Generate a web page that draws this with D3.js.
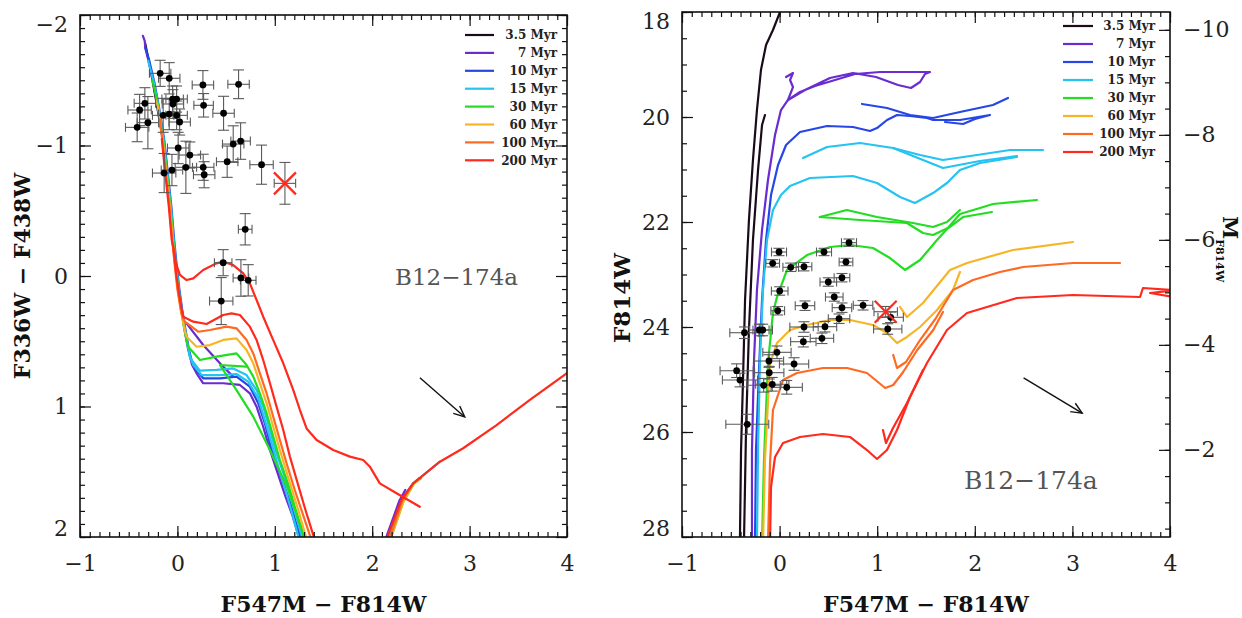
<!DOCTYPE html>
<html><head><meta charset="utf-8">
<script src="https://cdn.jsdelivr.net/npm/d3@7"></script>
<style>body{margin:0;background:#fff}svg{display:block}</style>
</head><body>
<svg id="c" width="1242" height="618"></svg>
<script>
// ---------------- DATA ----------------
const ages = ["3.5 Myr","7 Myr","10 Myr","15 Myr","30 Myr","60 Myr","100 Myr","200 Myr"];
const ageColors = ["#1a0a1a","#6a2bd0","#2746e6","#24c3f2","#22dd22","#f7b526","#ff6a22","#ff2a1e"];
const xDomain = [-1, 4];
const xMajorTicks = [-1,0,1,2,3,4];
const yLeftDomain = [-2, 2];
const yLeftTicks = [-2,-1,0,1,2];
const yRightDomain = [18, 28];
const yRightTicks = [18,20,22,24,26,28];
const absMagTicks = [-10,-8,-6,-4,-2];
const distMod = 28.34;
const clusterName = "B12\u2212174a";
const xTitle = "F547M \u2212 F814W";
const yTitleLeft = "F336W \u2212 F438W";
const yTitleRight = "F814W";

// left panel: colour-colour points
const leftX = [-0.177,-0.084,0.262,0.628,-0.334,-0.049,-0.008,-0.046,0.269,-0.388,-0.413,-0.303,-0.146,-0.084,-0.008,0.023,0.474,0.008,0.128,0.573,0.649,0.511,0.864,0.087,0.265,0.275,-0.136,-0.056,0.696,0.470,0.652,0.727,0.450];
const leftY = [-1.553,-1.515,-1.464,-1.469,-1.323,-1.356,-1.356,-1.318,-1.308,-1.272,-1.139,-1.175,-1.231,-1.241,-1.231,-1.180,-1.247,-0.981,-0.927,-1.011,-1.034,-0.876,-0.853,-0.833,-0.833,-0.776,-0.789,-0.812,-0.358,-0.102,0.015,0.033,0.192];
const leftXerr = [0.11,0.11,0.11,0.11,0.11,0.11,0.11,0.11,0.10,0.12,0.12,0.11,0.11,0.11,0.11,0.11,0.11,0.11,0.11,0.11,0.10,0.11,0.12,0.11,0.11,0.11,0.12,0.11,0.07,0.09,0.08,0.08,0.12];
const leftYerr = [0.10,0.12,0.11,0.11,0.12,0.10,0.10,0.11,0.09,0.12,0.11,0.20,0.13,0.12,0.11,0.10,0.13,0.12,0.10,0.14,0.14,0.12,0.15,0.20,0.10,0.10,0.15,0.12,0.12,0.10,0.14,0.12,0.18];
const leftStar = [1.104, -0.710], leftStarErr = [0.11, 0.16];

// right panel: CMD points
const rightX = [0.711,-0.006,0.455,-0.071,0.114,0.250,0.680,0.499,0.639,0.001,0.560,-0.019,0.260,0.639,0.855,0.609,1.108,1.138,0.250,0.465,0.243,0.434,-0.208,-0.173,-0.360,-0.027,-0.109,0.148,-0.106,-0.440,-0.406,-0.163,-0.075,0.073,-0.331];
const rightY = [22.394,22.571,22.571,22.787,22.863,22.851,22.762,23.143,23.061,23.314,23.429,23.690,23.594,23.632,23.587,23.842,24.038,23.815,24.000,23.994,24.280,24.215,24.057,24.057,24.109,24.482,24.648,24.705,24.870,24.832,25.010,25.110,25.091,25.149,25.853];
const rightXerr = [0.077,0.077,0.077,0.07,0.08,0.08,0.07,0.085,0.08,0.085,0.09,0.07,0.10,0.10,0.10,0.11,0.145,0.13,0.145,0.12,0.13,0.12,0.10,0.10,0.15,0.145,0.15,0.15,0.15,0.17,0.18,0.17,0.17,0.16,0.22];
const rightYerr = [0.07,0.07,0.07,0.07,0.08,0.08,0.07,0.08,0.08,0.08,0.08,0.08,0.09,0.09,0.09,0.09,0.10,0.10,0.10,0.10,0.10,0.10,0.11,0.11,0.11,0.12,0.12,0.12,0.12,0.13,0.13,0.13,0.13,0.13,0.19];
const rightStar = [1.087, 23.709], rightStarErr = [0.12, 0.10];

// reddening vectors [x0,y0,x1,y1]
const arrowLeft = [2.49, 0.78, 2.95, 1.08];
const arrowRight = [2.50, 24.97, 3.10, 25.64];

// left panel isochrones (segments)
const left35 = [[[-0.33,-1.78],[-0.28,-1.60],[-0.22,-1.35],[-0.15,-1.05],[-0.10,-0.70],[-0.06,-0.35]]];
const left7 = [
 [[-0.354,-1.84],[-0.335,-1.80],[-0.33,-1.75],[-0.30,-1.66],[-0.245,-1.477],[-0.20,-1.297],[-0.15,-1.042],[-0.115,-0.787],[-0.08,-0.531],[-0.05,-0.276],[-0.025,-0.1],[0.005,0.1],[0.04,0.26],[0.07,0.4],[0.11,0.56],[0.15,0.68],[0.197,0.746],[0.265,0.822],[0.47,0.822],[0.642,0.835],[0.744,0.899],[0.813,1.001],[0.881,1.155],[0.95,1.333],[1.03,1.512],[1.11,1.691],[1.185,1.844],[1.245,1.997],[1.29,2.15],[2.05,2.15],[2.15,1.99],[2.28,1.72],[2.34,1.64]],
 [[0.094,0.363],[0.265,0.529],[0.453,0.682],[0.573,0.771]]
];
const left10 = [
 [[-0.33,-1.75],[-0.29,-1.655],[-0.235,-1.477],[-0.19,-1.297],[-0.135,-1.042],[-0.098,-0.787],[-0.062,-0.531],[-0.033,-0.276],[-0.01,-0.1],[0.02,0.1],[0.05,0.26],[0.085,0.42],[0.12,0.57],[0.15,0.66],[0.18,0.708],[0.265,0.784],[0.436,0.784],[0.607,0.771],[0.744,0.848],[0.83,0.976],[0.898,1.129],[0.967,1.333],[1.065,1.538],[1.16,1.742],[1.26,1.997],[1.31,2.15],[2.08,2.15],[2.17,1.99],[2.30,1.716],[2.42,1.59],[2.47,1.56]]
];
const left15 = [
 [[-0.30,-1.65],[-0.24,-1.477],[-0.193,-1.297],[-0.14,-1.042],[-0.103,-0.787],[-0.067,-0.531],[-0.038,-0.276],[-0.015,-0.1],[0.015,0.1],[0.045,0.26],[0.08,0.42],[0.11,0.55],[0.13,0.62],[0.145,0.644],[0.231,0.725],[0.402,0.72],[0.573,0.708],[0.71,0.759],[0.813,0.874],[0.881,1.001],[0.95,1.18],[1.018,1.359],[1.10,1.538],[1.18,1.742],[1.28,1.997],[1.33,2.15],[2.1,2.15],[2.18,1.99],[2.31,1.716],[2.42,1.59],[2.695,1.423]],
 [[0.12,0.60],[0.163,0.682],[0.248,0.759],[0.436,0.759],[0.607,0.751],[0.727,0.81],[0.83,0.937],[0.898,1.104],[0.967,1.282],[1.035,1.461],[1.12,1.665],[1.215,1.92],[1.24,1.997],[1.29,2.15]]
];
const left30 = [
 [[-0.26,-1.50],[-0.24,-1.45],[-0.197,-1.297],[-0.145,-1.042],[-0.108,-0.787],[-0.072,-0.531],[-0.043,-0.276],[-0.02,-0.1],[0.01,0.1],[0.04,0.26],[0.07,0.4],[0.095,0.5],[0.111,0.542],[0.231,0.644],[0.402,0.618],[0.607,0.593],[0.71,0.682],[0.779,0.771],[0.847,0.899],[0.916,1.053],[0.984,1.231],[1.052,1.41],[1.135,1.589],[1.215,1.793],[1.30,1.997],[1.35,2.15],[2.12,2.15],[2.2,1.99],[2.32,1.73],[2.43,1.59],[2.5,1.55]],
 [[0.71,0.695],[0.436,0.682],[0.607,0.874],[0.779,1.078],[0.95,1.333],[1.14,1.64],[1.30,1.997],[1.33,2.1]]
];
const left60 = [
 [[-0.22,-1.35],[-0.20,-1.297],[-0.15,-1.042],[-0.113,-0.787],[-0.077,-0.531],[-0.048,-0.276],[-0.025,-0.1],[0.005,0.1],[0.035,0.26],[0.06,0.36],[0.08,0.43],[0.094,0.465],[0.197,0.542],[0.334,0.529],[0.47,0.49],[0.607,0.478],[0.71,0.567],[0.779,0.669],[0.847,0.822],[0.916,0.976],[0.984,1.155],[1.052,1.333],[1.135,1.538],[1.22,1.742],[1.32,1.997],[1.37,2.15],[2.12,2.15],[2.2,1.99],[2.32,1.73],[2.43,1.59],[2.48,1.56]]
];
const left100 = [
 [[-0.18,-1.2],[-0.155,-1.042],[-0.118,-0.787],[-0.082,-0.531],[-0.053,-0.276],[-0.03,-0.1],[0.0,0.1],[0.03,0.24],[0.05,0.31],[0.077,0.35],[0.214,0.427],[0.334,0.414],[0.505,0.388],[0.607,0.401],[0.71,0.49],[0.779,0.593],[0.847,0.746],[0.916,0.899],[0.984,1.078],[1.052,1.257],[1.121,1.436],[1.205,1.64],[1.285,1.819],[1.365,1.997],[1.41,2.15],[2.12,2.15],[2.19,1.99],[2.31,1.72],[2.42,1.59],[2.48,1.55]]
];
const left200 = [
 [[-0.16,-1.05],[-0.125,-0.787],[-0.088,-0.531],[-0.058,-0.276],[-0.036,-0.199],[-0.015,-0.097],[0.026,-0.008],[0.094,0.031],[0.163,0.018],[0.265,-0.046],[0.402,-0.097],[0.47,-0.11],[0.573,-0.084],[0.676,-0.02],[0.744,0.056],[0.813,0.184],[0.881,0.312],[0.984,0.491],[1.087,0.669],[1.19,0.874],[1.258,1.027],[1.326,1.168],[1.429,1.257],[1.6,1.333],[1.771,1.384],[1.908,1.41],[1.976,1.461],[2.078,1.589],[2.25,1.665],[2.489,1.768]],
 [[-0.036,-0.199],[-0.01,0.0],[0.02,0.15],[0.045,0.26],[0.06,0.312],[0.163,0.35],[0.3,0.368],[0.47,0.299],[0.556,0.286],[0.642,0.299],[0.744,0.388],[0.813,0.49],[0.881,0.644],[0.95,0.822],[1.018,1.001],[1.087,1.18],[1.155,1.384],[1.235,1.589],[1.315,1.793],[1.40,1.997],[1.45,2.15],[2.1,2.15],[2.16,1.99],[2.30,1.716],[2.421,1.589],[2.695,1.423],[2.934,1.32],[3.277,1.142],[3.619,0.95],[3.996,0.746],[4.1,0.69]]
];

// right panel isochrones (segments)
const right35 = [
 [[-0.406,28.1],[-0.406,28.0],[-0.395,26.343],[-0.375,25.010],[-0.354,23.486],[-0.314,21.962],[-0.273,20.819],[-0.232,19.867],[-0.191,19.105],[-0.139,18.629],[-0.068,18.343],[0.004,18.0],[0.035,17.867]],
 [[-0.365,28.1],[-0.344,25.962],[-0.314,24.057],[-0.273,22.343],[-0.221,21.010],[-0.180,20.152],[-0.150,19.962]]
];
const right7 = [
 [[-0.283,28.1],[-0.283,26.343],[-0.262,24.629],[-0.232,23.295],[-0.180,22.152],[-0.119,21.2],[-0.047,20.343],[0.014,19.867],[0.086,19.676],[0.209,19.524],[0.363,19.410],[0.568,19.295],[0.773,19.181],[1.029,19.143],[1.336,19.143],[1.541,19.143],[1.490,19.181],[1.439,19.333],[1.346,19.448],[1.213,19.390],[0.988,19.238],[0.752,19.162],[0.516,19.257],[0.260,19.486],[0.086,19.676]],
 [[0.086,19.676],[0.137,19.429],[0.107,19.295],[0.137,19.162],[0.066,19.238]]
];
const right10 = [
 [[-0.252,28.1],[-0.242,26.343],[-0.211,24.819],[-0.180,23.486],[-0.139,22.343],[-0.088,21.486],[-0.016,20.914],[0.066,20.533],[0.209,20.286],[0.486,20.171],[0.752,20.190],[0.926,20.267],[0.998,20.210],[1.101,20.057],[1.203,19.962],[1.336,19.981],[1.510,20.019],[1.572,20.057],[1.848,20.057],[2.156,19.962],[2.002,20.038],[1.879,20.133],[1.695,20.095]],
 [[0.844,19.752],[1.101,19.829],[1.336,19.962],[1.572,20.019],[1.848,19.905],[2.186,19.771],[2.340,19.638]]
];
const right15 = [
 [[-0.232,28.1],[-0.221,26.343],[-0.201,24.629],[-0.170,23.295],[-0.129,22.343],[-0.068,21.771],[0.014,21.486],[0.107,21.314],[0.311,21.162],[0.752,21.124],[0.998,21.257],[1.234,21.524],[1.387,21.638],[1.572,21.448],[1.715,21.257],[1.848,21.010],[2.053,20.876],[2.432,20.762]],
 [[0.240,20.781],[0.486,20.571],[0.824,20.495],[1.162,20.590],[1.439,20.724],[1.674,20.819],[2.023,20.724],[2.361,20.629],[2.699,20.629]],
 [[1.162,20.590],[1.674,20.971],[2.053,20.838],[2.432,20.743]]
];
const right30 = [
 [[-0.180,28.1],[-0.160,26.533],[-0.119,24.686],[-0.068,23.733],[-0.027,23.429],[0.076,22.914],[0.281,22.629],[0.516,22.476],[0.721,22.438],[0.957,22.495],[1.131,22.686],[1.285,22.914],[1.439,22.724],[1.613,22.343],[1.715,22.133],[1.848,21.848],[2.053,21.733],[2.186,21.657],[2.637,21.581]],
 [[0.412,21.905],[0.689,21.771],[0.998,21.905],[1.367,22.019],[1.572,22.095],[1.715,22.0],[1.848,21.771]],
 [[0.412,21.905],[0.824,21.962],[1.305,22.019],[1.469,22.210],[1.572,22.248],[1.746,22.095],[1.879,21.905],[2.176,21.810]]
];
const right60 = [
 [[-0.170,28.1],[-0.150,26.533],[-0.098,24.686],[-0.027,24.305],[0.107,24.057],[0.281,23.962],[0.516,23.867],[0.721,23.867],[0.957,23.962],[1.100,24.114],[1.203,24.305],[1.305,24.190],[1.439,24.0],[1.613,23.676],[1.777,23.295],[1.848,22.952]],
 [[1.234,23.619],[1.305,23.810],[1.469,23.543],[1.746,22.914],[1.920,22.781],[2.391,22.533],[3.006,22.381]]
];
const right100 = [
 [[-0.119,28.1],[-0.098,26.590],[-0.068,25.581],[0.035,25.010],[0.178,24.876],[0.445,24.781],[0.691,24.781],[0.895,24.876],[1.082,25.162],[1.164,25.105],[1.266,24.857],[1.410,24.438],[1.574,24.057],[1.674,23.714]],
 [[1.164,24.533],[1.203,24.781],[1.295,24.667],[1.439,24.248],[1.602,23.829],[1.777,23.295],[1.982,23.105],[2.258,22.952],[2.494,22.857],[3.006,22.781],[3.488,22.781]]
];
const right200 = [
 [[-0.098,28.1],[-0.088,27.048],[-0.047,26.476],[0.035,26.210],[0.209,26.095],[0.445,26.038],[0.721,26.095],[0.895,26.343],[0.998,26.514],[1.100,26.343],[1.203,25.962],[1.336,25.333],[1.469,24.819]],
 [[1.059,25.962],[1.090,26.210],[1.162,25.924],[1.305,25.448],[1.510,24.686],[1.715,24.057],[1.920,23.733],[2.432,23.448],[3.006,23.390],[3.693,23.429],[3.723,23.257],[4.05,23.30],[3.795,23.352],[4.1,23.448]]
];
const leftTracks = [left35,left7,left10,left15,left30,left60,left100,left200];
const rightTracks = [right35,right7,right10,right15,right30,right60,right100,right200];

// ---------------- DRAW ----------------
const svg = d3.select("#c");
const pL = {l:80, r:567, t:15, b:537};
const pR = {l:682, r:1170, t:12, b:537};
const xL = d3.scaleLinear().domain(xDomain).range([pL.l,pL.r]);
const yL = d3.scaleLinear().domain(yLeftDomain).range([pL.t,pL.b]);
const xR = d3.scaleLinear().domain(xDomain).range([pR.l,pR.r]);
const yR = d3.scaleLinear().domain(yRightDomain).range([pR.t,pR.b]);
const yM = d3.scaleLinear().domain([yRightDomain[0]-distMod, yRightDomain[1]-distMod]).range([pR.t,pR.b]);

const serif = "'DejaVu Serif', 'Liberation Serif', serif";
const defs = svg.append("defs");
[["clipL",pL],["clipR",pR]].forEach(([id,p]) => {
  defs.append("clipPath").attr("id",id).append("rect")
    .attr("x",p.l).attr("y",p.t).attr("width",p.r-p.l).attr("height",p.b-p.t);
});

function drawTracks(tracks, x, y, clip) {
  const g = svg.append("g").attr("clip-path", `url(#${clip})`);
  const line = d3.line().x(d => x(d[0])).y(d => y(d[1]));
  tracks.forEach((segs, i) => {
    segs.forEach(seg => {
      g.append("path").attr("d", line(seg)).attr("fill","none")
        .attr("stroke", ageColors[i]).attr("stroke-width", 2.2)
        .attr("stroke-linejoin","round").attr("stroke-linecap","round");
    });
  });
}
drawTracks(leftTracks, xL, yL, "clipL");
drawTracks(rightTracks, xR, yR, "clipR");

function errBars(g, cx, cy, x0, x1, y0, y1) {
  g.append("line").attr("x1",x0).attr("x2",x1).attr("y1",cy).attr("y2",cy);
  g.append("line").attr("x1",x0).attr("x2",x0).attr("y1",cy-4.5).attr("y2",cy+4.5);
  g.append("line").attr("x1",x1).attr("x2",x1).attr("y1",cy-4.5).attr("y2",cy+4.5);
  g.append("line").attr("x1",cx).attr("x2",cx).attr("y1",y0).attr("y2",y1);
  g.append("line").attr("x1",cx-5.5).attr("x2",cx+5.5).attr("y1",y0).attr("y2",y0);
  g.append("line").attr("x1",cx-5.5).attr("x2",cx+5.5).attr("y1",y1).attr("y2",y1);
}
function drawPoints(X, Y, Xe, Ye, x, y) {
  const g = svg.append("g");
  const pts = X.map((v,i) => ({x:v, y:Y[i], xe:Xe[i], ye:Ye[i]}));
  const eb = g.append("g").attr("stroke","#5a5a5a").attr("stroke-width",1.1);
  pts.forEach(p => errBars(eb, x(p.x), y(p.y), x(p.x-p.xe), x(p.x+p.xe), y(p.y-p.ye), y(p.y+p.ye)));
  g.selectAll("circle").data(pts).join("circle")
    .attr("cx", d => x(d.x)).attr("cy", d => y(d.y)).attr("r", 3.4).attr("fill","#000");
}
drawPoints(leftX, leftY, leftXerr, leftYerr, xL, yL);
drawPoints(rightX, rightY, rightXerr, rightYerr, xR, yR);

function drawStar(s, e, x, y) {
  const g = svg.append("g");
  const cx = x(s[0]), cy = y(s[1]);
  const eb = g.append("g").attr("stroke","#5a5a5a").attr("stroke-width",1.1);
  errBars(eb, cx, cy, x(s[0]-e[0]), x(s[0]+e[0]), y(s[1]-e[1]), y(s[1]+e[1]));
  const r = 11;
  g.append("line").attr("x1",cx-r).attr("y1",cy-r).attr("x2",cx+r).attr("y2",cy+r)
    .attr("stroke","#ff2a1e").attr("stroke-width",2.3);
  g.append("line").attr("x1",cx-r).attr("y1",cy+r).attr("x2",cx+r).attr("y2",cy-r)
    .attr("stroke","#ff2a1e").attr("stroke-width",2.3);
}
drawStar(leftStar, leftStarErr, xL, yL);
drawStar(rightStar, rightStarErr, xR, yR);

function drawArrow(a, x, y) {
  const X0 = x(a[0]), Y0 = y(a[1]), X1 = x(a[2]), Y1 = y(a[3]);
  const ang = Math.atan2(Y1-Y0, X1-X0), L = 12, sp = 0.42;
  const g = svg.append("g").attr("stroke","#111").attr("stroke-width",1.4).attr("fill","none");
  g.append("line").attr("x1",X0).attr("y1",Y0).attr("x2",X1).attr("y2",Y1);
  g.append("path").attr("d",
    `M${X1-L*Math.cos(ang-sp)},${Y1-L*Math.sin(ang-sp)}L${X1},${Y1}L${X1-L*Math.cos(ang+sp)},${Y1-L*Math.sin(ang+sp)}`);
}
drawArrow(arrowLeft, xL, yL);
drawArrow(arrowRight, xR, yR);

function drawLegend(x0, x1, xt, y0, dy) {
  const g = svg.append("g");
  ages.forEach((a, i) => {
    const yy = y0 + i*dy;
    g.append("line").attr("x1",x0).attr("x2",x1).attr("y1",yy).attr("y2",yy)
      .attr("stroke",ageColors[i]).attr("stroke-width",2.2);
    g.append("text").attr("x",xt).attr("y",yy+4.3).attr("text-anchor","end")
      .attr("font-family",serif).attr("font-weight","bold").attr("font-size",12)
      .attr("fill","#222").text(a);
  });
}
drawLegend(465, 494, 557, 35, 17.9);
drawLegend(1063, 1093, 1155, 26, 18);

svg.append("text").attr("x",395).attr("y",285).attr("font-family",serif)
  .attr("font-size",23).attr("fill","#555").text(clusterName);
svg.append("text").attr("x",964).attr("y",489).attr("font-family",serif)
  .attr("font-size",25).attr("fill","#555").text(clusterName);

// frames & ticks
function axisG(gen, scale, vals, size, fmt, pad, tx, ty) {
  const g = svg.append("g").attr("transform",`translate(${tx},${ty})`)
    .call(gen(scale).tickValues(vals).tickSize(size).tickPadding(pad).tickFormat(fmt));
  g.select(".domain").remove();
  g.selectAll(".tick line").attr("stroke","#111").attr("stroke-width",1.2);
  g.selectAll(".tick text").attr("font-family",serif).attr("font-size",22).attr("fill","#222");
  return g;
}
const fmt = d3.format("d");
const none = () => "";
function clampY(g, y, p) {
  g.selectAll(".tick text").attr("transform", d => {
    const v = y(d);
    if (Math.abs(v - p.t) < 1) return "translate(0,9)";
    if (Math.abs(v - p.b) < 1) return "translate(0,-9)";
    return null;
  });
}
function frame(p, x, y, yMinor, yMajor) {
  const minorX = d3.range(xDomain[0], xDomain[1]+1e-9, 0.1);
  axisG(d3.axisBottom, x, xMajorTicks, -11, fmt, 18, 0, p.b);
  axisG(d3.axisBottom, x, minorX, -5, none, 0, 0, p.b);
  axisG(d3.axisTop, x, xMajorTicks, -11, none, 0, 0, p.t);
  axisG(d3.axisTop, x, minorX, -5, none, 0, 0, p.t);
  const gl = axisG(d3.axisLeft, y, yMajor, -11, fmt, 12, p.l, 0);
  clampY(gl, y, p);
  axisG(d3.axisLeft, y, yMinor, -5, none, 0, p.l, 0);
  svg.append("rect").attr("x",p.l).attr("y",p.t).attr("width",p.r-p.l).attr("height",p.b-p.t)
    .attr("fill","none").attr("stroke","#111").attr("stroke-width",1.6);
}
const minorYL = d3.range(yLeftDomain[0], yLeftDomain[1]+1e-9, 0.1);
frame(pL, xL, yL, minorYL, yLeftTicks);
axisG(d3.axisRight, yL, yLeftTicks, -11, none, 0, pL.r, 0);
axisG(d3.axisRight, yL, minorYL, -5, none, 0, pL.r, 0);

const minorYR = d3.range(yRightDomain[0], yRightDomain[1]+1e-9, 0.5);
frame(pR, xR, yR, minorYR, yRightTicks);
const mDom = yM.domain();
const minorM = d3.range(Math.ceil(mDom[0]*2)/2, mDom[1]+1e-9, 0.5);
axisG(d3.axisRight, yM, absMagTicks, -11, fmt, 13, pR.r, 0);
axisG(d3.axisRight, yM, minorM, -5, none, 0, pR.r, 0);

// axis titles
function title(txt, x, y, rot, size) {
  svg.append("text").attr("transform",`translate(${x},${y}) rotate(${rot})`)
    .attr("text-anchor","middle").attr("font-family",serif).attr("font-weight","bold")
    .attr("font-size",size).attr("fill","#111").text(txt);
}
title(xTitle, (pL.l+pL.r)/2, 612, 0, 22);
title(xTitle, (pR.l+pR.r)/2, 612, 0, 22);
title(yTitleLeft, 30, (pL.t+pL.b)/2, -90, 22);
title(yTitleRight, 630, 298, -90, 23);
const mt = svg.append("text").attr("transform","translate(1223,216) rotate(90)")
  .attr("font-family",serif).attr("font-weight","bold").attr("fill","#111");
mt.append("tspan").attr("font-size",21).text("M");
mt.append("tspan").attr("font-size",11).attr("dy",7).text("F814W");
</script>
</body></html>
